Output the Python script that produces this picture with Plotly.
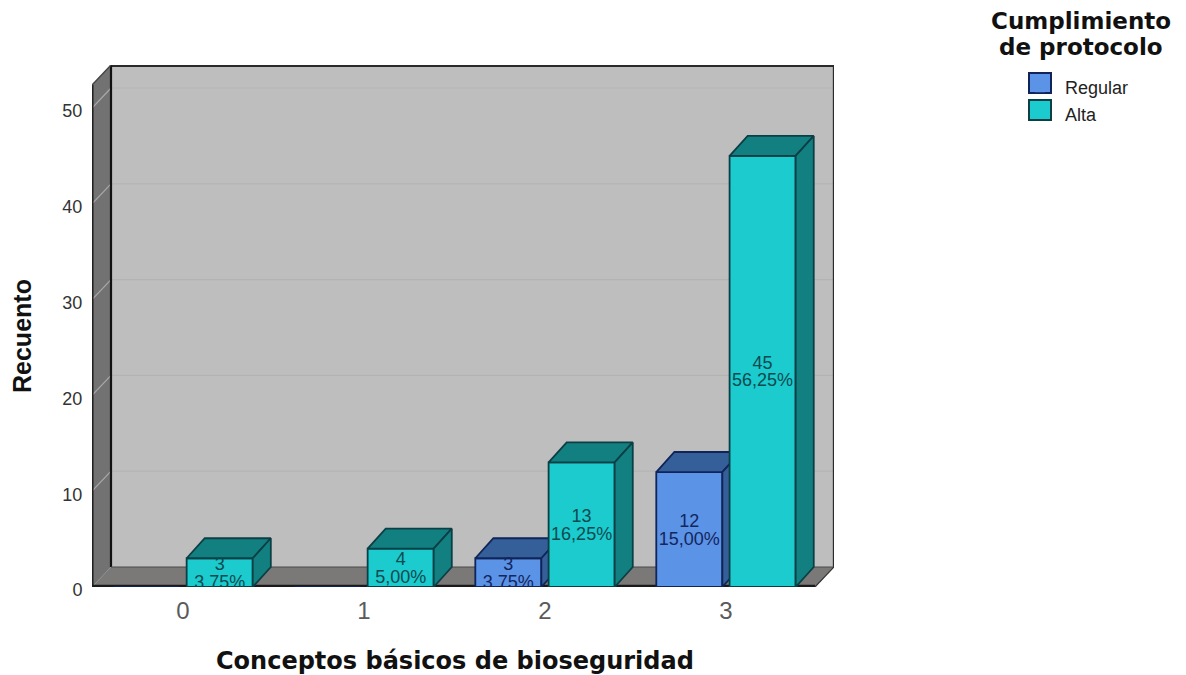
import plotly.graph_objects as go

categories = [0, 1, 2, 3]
regular_values = [0, 0, 3, 12]
alta_values = [3, 4, 13, 45]
regular_pct = ["", "", "3,75%", "15,00%"]
alta_pct = ["3,75%", "5,00%", "16,25%", "56,25%"]
y_ticks = [0, 10, 20, 30, 40, 50]
x_title = "Conceptos básicos de bioseguridad"
y_title = "Recuento"
legend_title_lines = ["Cumplimiento", "de protocolo"]

# Pseudo-3D geometry, in axis units
X_MIN, X_MAX = -0.503, 3.597
Y_MAX = 54.49
DX, DY = 0.100, 2.09           # bar depth
WALL_DX, WALL_DY = 0.105, 2.09  # wall depth
BAR_W = 0.365
REG_OFF, ALTA_OFF = -0.385, 0.02
FRONT_RIGHT = X_MAX - WALL_DX
FONT = "Liberation Sans"
WIDE = "DejaVu Sans"
W, H = 1186, 675
REG_COLORS = ("#5B93E6", "#355F98", "#10245A", "#14265E")
ALTA_COLORS = ("#1BCBCD", "#128080", "#0B3F45", "#0C4A50")

fig = go.Figure()


def poly(xs, ys, fill, line, axes):
    fig.add_trace(go.Scatter(
        x=xs + xs[:1], y=ys + ys[:1], mode="lines", fill="toself",
        fillcolor=fill, line=dict(color=line, width=1.8),
        hoverinfo="skip", showlegend=False, xaxis=axes[0], yaxis=axes[1]))


def series(name, values, pct, off, colors, axes):
    front, dark, edge, txt = colors
    fig.add_trace(go.Bar(
        x=categories, y=values, name=name, width=BAR_W, offset=off,
        marker=dict(color=front, line=dict(color=edge, width=1.8)),
        showlegend=False, xaxis=axes[0], yaxis=axes[1]))
    shown = [(c, v, p) for c, v, p in zip(categories, values, pct) if v > 0]
    for c, v, _ in shown:
        l, r = c + off, c + off + BAR_W
        poly([l, r, r + DX, l + DX], [v, v, v + DY, v + DY], dark, edge, axes)
        poly([r, r + DX, r + DX, r], [0, DY, v + DY, v], dark, edge, axes)
    xc = [c + off + BAR_W / 2 for c, _, _ in shown]
    fig.add_trace(go.Scatter(
        x=xc, y=[v / 2 + 0.72 for _, v, _ in shown],
        text=[str(v) for _, v, _ in shown], mode="text",
        textfont=dict(family=FONT, size=18, color=txt),
        showlegend=False, hoverinfo="skip", xaxis=axes[0], yaxis=axes[1]))
    fig.add_trace(go.Scatter(
        x=xc, y=[v / 2 - 1.1 for _, v, _ in shown],
        text=[p for _, _, p in shown], mode="text",
        textfont=dict(family=FONT, size=18, color=txt),
        showlegend=False, hoverinfo="skip", xaxis=axes[0], yaxis=axes[1]))
    fig.add_trace(go.Scatter(
        x=[None], y=[None], mode="markers", name=name,
        marker=dict(symbol="square", size=10, color=front),
        xaxis=axes[0], yaxis=axes[1]))


series("Regular", regular_values, regular_pct, REG_OFF, REG_COLORS, ("x", "y"))
series("Alta", alta_values, alta_pct, ALTA_OFF, ALTA_COLORS, ("x2", "y2"))

# Walls, floor, grid (behind the traces)
shapes = []
L = X_MIN
R = FRONT_RIGHT
BL = X_MIN + WALL_DX
BR = X_MAX


def path(pts):
    return "M" + "L".join(f"{a},{b}" for a, b in pts) + "Z"


def fill(pts, color):
    shapes.append(dict(type="path", path=path(pts), xref="x", yref="y",
                       fillcolor=color, line=dict(width=0), layer="below"))


def seg(x0, y0, x1, y1, color, width):
    shapes.append(dict(type="line", x0=x0, y0=y0, x1=x1, y1=y1, xref="x",
                       yref="y", line=dict(color=color, width=width),
                       layer="below"))


fill([(BL, WALL_DY), (BR, WALL_DY), (BR, Y_MAX), (BL, Y_MAX)], "#BEBEBE")
fill([(L, 0), (R, 0), (BR, WALL_DY), (BL, WALL_DY)], "#7B7878")
fill([(L, 0), (BL, WALL_DY), (BL, Y_MAX), (L, Y_MAX - WALL_DY)], "#727272")
for t in y_ticks[1:]:
    seg(BL, t + WALL_DY, BR, t + WALL_DY, "#B3B3B3", 1.2)
    seg(L, t, BL, t + WALL_DY, "#A9A9A9", 1.2)
E = "#2A2A2A"
seg(BL, Y_MAX - 0.1, BR, Y_MAX - 0.1, E, 2)
seg(BL, WALL_DY, BL, Y_MAX, "#111111", 2.2)
seg(BR - 0.002, WALL_DY, BR - 0.002, Y_MAX, E, 1.6)
seg(L + 0.003, 0, L + 0.003, Y_MAX - WALL_DY, "#222222", 2)
seg(L, Y_MAX - WALL_DY, BL, Y_MAX, "#444444", 1.4)
seg(L, 0.1, R, 0.1, "#1A1A1A", 2.4)
seg(BL, WALL_DY, BR, WALL_DY, "#4A4A4A", 1.2)
seg(R, 0, BR, WALL_DY, "#333333", 1.2)

# Larger legend swatches behind the native legend markers
for (top, bottom), colors in zip([(73, 93), (100, 120)], [REG_COLORS, ALTA_COLORS]):
    shapes.append(dict(type="rect", xref="paper", yref="paper",
                       x0=1029 / W, x1=1051 / W, y0=1 - bottom / H, y1=1 - top / H,
                       fillcolor=colors[0], line=dict(color=colors[2], width=2),
                       layer="below"))


def text_note(text, px, py, size, family=WIDE, angle=0, color="#111111"):
    return dict(text=text, xref="paper", yref="paper", x=px / W, y=1 - py / H,
                xanchor="center", yanchor="middle", showarrow=False,
                textangle=angle,
                font=dict(family=family, size=size, color=color, weight="bold"))


plot_l, plot_r, plot_t, plot_b = 92, 834, 65, 587
fig.update_layout(
    width=W, height=H, autosize=False,
    margin=dict(l=0, r=0, t=0, b=0, pad=0, autoexpand=False),
    paper_bgcolor="white", plot_bgcolor="white",
    barmode="overlay", shapes=shapes,
    xaxis=dict(domain=[plot_l / W, plot_r / W], range=[X_MIN, X_MAX],
               tickvals=categories, showgrid=False,
               zeroline=False, showline=False, ticks="outside", ticklen=2,
               tickcolor="rgba(0,0,0,0)",
               tickfont=dict(family=FONT, size=24, color="#5A5A5A")),
    yaxis=dict(domain=[1 - plot_b / H, 1 - plot_t / H], range=[0, Y_MAX],
               tickvals=y_ticks, showgrid=False, ticklabelshift=3,
               zeroline=False, showline=False, ticks="outside", ticklen=5,
               tickcolor="rgba(0,0,0,0)",
               tickfont=dict(family=FONT, size=18, color="#333333")),
    xaxis2=dict(range=[X_MIN, X_MAX], overlaying="x", visible=False),
    yaxis2=dict(range=[0, Y_MAX], overlaying="y", visible=False),
    legend=dict(
        x=1015 / W, xanchor="left", y=1 - 69 / H, yanchor="top",
        itemsizing="trace", itemwidth=40, traceorder="normal",
        bgcolor="rgba(0,0,0,0)",
        font=dict(family=FONT, size=18, color="#222222")),
    annotations=[
        text_note(x_title, 455, 661, 24),
        text_note(y_title, 22, 336, 25, family=FONT, angle=-90),
        text_note(legend_title_lines[0], 1081, 21, 23),
        text_note(legend_title_lines[1], 1081, 47, 23),
    ],
)

fig.write_html("out.html", config={"displayModeBar": False},
               post_script="document.body.style.margin='0';")
